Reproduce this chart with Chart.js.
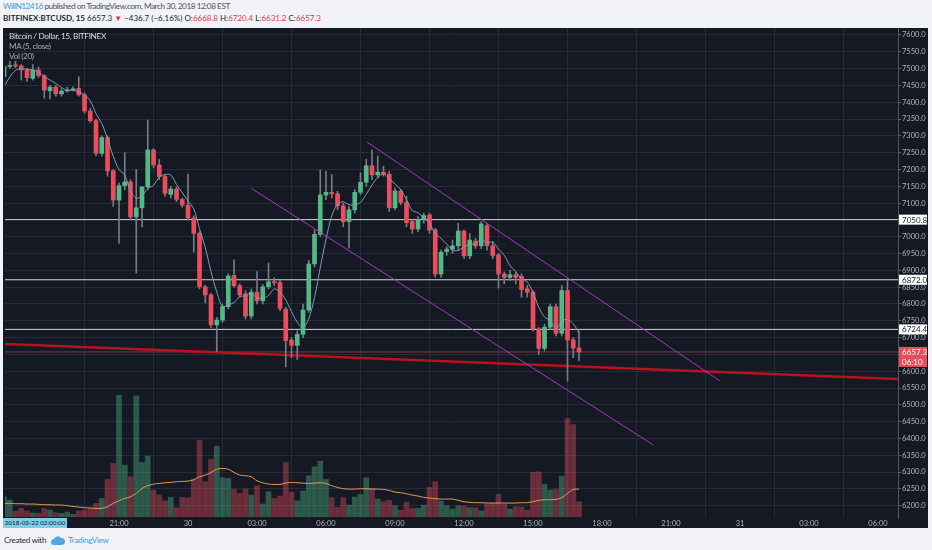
<!DOCTYPE html>
<html>
<head>
<meta charset="utf-8">
<script src="https://cdn.jsdelivr.net/npm/chart.js@4.4.1/dist/chart.umd.min.js"></script>
<style>
  body { margin: 0; width: 932px; height: 550px; background: #f1f3f7; font-family: Lato, "Open Sans", sans-serif; position: relative; overflow: hidden; }
  #panel { position: absolute; left: 3px; top: 28px; width: 925px; height: 500px; background: #151924; }
  #wrap { position: absolute; left: 5px; top: 28px; width: 923px; height: 500px; }
  .hdr1 { position: absolute; left: 3px; top: 1px; font-size: 8.3px; letter-spacing: -0.5px; color: #50535e; white-space: nowrap; }
  .hdr1 .user { color: #3d9be0; }
  .hdr2 { position: absolute; left: 3px; top: 13px; font-size: 8px; color: #23262f; white-space: nowrap; }
  .hdr2 b { font-weight: 700; }
  .hdr2 .dn { color: #e0364a; }
  .legend { position: absolute; left: 9px; top: 31px; font-size: 8.3px; letter-spacing: -0.4px; line-height: 10px; color: #a3a7b3; white-space: nowrap; }
  .legend .t { color: #d4d7de; }
  .xtag { position: absolute; left: 3px; top: 518px; width: 64px; height: 10px; background: #7fcbe8; color: #14202e; font-size: 6.3px; line-height: 10px; text-align: center; white-space: nowrap; overflow: hidden; }
  .foot { position: absolute; left: 4px; top: 535px; font-size: 8px; letter-spacing: -0.25px; color: #2a2d36; white-space: nowrap; }
  .foot .tv { color: #3d9be0; }
  .foot svg { vertical-align: -2px; margin: 0 3px 0 5px; }
</style>
</head>
<body>
<div class="hdr1"><span class="user">WillN12416</span> published on TradingView.com, March 30, 2018 12:08 EST</div>
<div class="hdr2"><b>BITFINEX:BTCUSD, 15</b> 6657.3 <span class="dn">▼</span> −436.7 (−6.16%) O:<span class="dn">6668.8</span> H:<span class="dn">6720.4</span> L:<span class="dn">6631.2</span> C:<span class="dn">6657.3</span></div>
<div id="panel"></div>
<div id="wrap"><canvas id="myChart" width="923" height="500"></canvas></div>
<div class="legend"><div class="t">Bitcoin / Dollar, 15, BITFINEX</div><div>MA (5, close)</div><div>Vol (20)</div></div>
<div class="xtag">2018-03-22 02:00:00</div>
<div class="foot">Created with<svg width="14" height="9" viewBox="0 0 14 9"><path d="M3 9 A3 3 0 0 1 3 3 A4 4 0 0 1 10 2 A3.5 3.5 0 0 1 11 9 Z" fill="#4fa8e4"/></svg><span class="tv">TradingView</span></div>
<script>
const ctx = document.getElementById("myChart").getContext("2d");

// 15 min candles, 29 Mar 16:00 -> 30 Mar 17:00
const opens = [7476,7506,7510,7508,7496,7471,7496,7479,7434,7445,
  7425,7434,7437,7441,7422,7374,7345,7248,7295,7196,
  7109,7152,7163,7059,7086,7148,7258,7213,7179,7126,
  7142,7111,7094,7056,7010,6851,6827,6738,6752,6792,
  6885,6854,6830,6764,6835,6809,6851,6866,6864,6784,
  6693,6677,6710,6782,6919,7007,7124,7132,7128,7092,
  7045,7080,7132,7162,7211,7184,7192,7186,7086,7136,
  7102,7045,7023,7050,7065,7020,6889,6956,6963,6973,
  7017,6943,6987,6973,7033,6973,6946,6889,6879,6887,
  6882,6845,6835,6726,6668,6731,6792,6713,6840,6693,
  6668.8];
const highs = [7523,7522,7522,7512,7500,7512,7505,7482,7450,7450,
  7440,7445,7446,7476,7428,7382,7350,7300,7300,7200,
  7160,7250,7170,7200,7150,7347,7262,7230,7185,7150,
  7148,7115,7186,7062,7015,6856,6832,6760,6800,6890,
  6931,6860,6840,6845,6896,6858,6922,6878,6870,6790,
  6700,6720,6800,6930,7020,7199,7195,7185,7135,7100,
  7090,7140,7190,7230,7258,7240,7210,7195,7145,7140,
  7120,7050,7060,7070,7070,7025,6960,6970,6990,7040,
  7020,7010,6995,7045,7040,6985,6950,6895,6900,6895,
  6890,6855,6840,6730,6740,6800,6800,6855,6876,6700,
  6720.4];
const lows = [7470,7500,7503,7466,7462,7466,7474,7412,7410,7418,
  7418,7430,7434,7418,7368,7340,7240,7240,7180,7090,
  6980,7140,7050,6892,7029,7140,7205,7170,7120,7115,
  7105,7088,7050,6955,6845,6803,6730,6658,6745,6785,
  6850,6820,6755,6755,6800,6800,6845,6855,6780,6613,
  6640,6635,6700,6775,6910,7000,7110,7115,7080,7030,
  6966,7070,7125,7150,7170,7175,7180,7075,7080,7095,
  7030,7010,7015,7040,7010,6880,6880,6945,6950,6960,
  6935,6935,6965,6965,6960,6935,6847,6860,6870,6860,
  6820,6820,6720,6650,6660,6725,6705,6705,6570,6640,
  6631.2];
const closes = [7506,7509,7508,7496,7473,7496,7479,7436,7445,7425,
  7433,7437,7440,7422,7374,7345,7248,7295,7196,7109,
  7152,7163,7059,7086,7148,7258,7213,7179,7129,7142,
  7111,7094,7056,7010,6851,6827,6738,6752,6792,6883,
  6854,6827,6764,6835,6809,6851,6866,6863,6787,6691,
  6677,6710,6782,6919,7007,7124,7132,7128,7092,7045,
  7080,7132,7162,7211,7184,7192,7186,7086,7136,7102,
  7042,7023,7050,7063,7020,6889,6954,6963,6973,7017,
  6943,6990,6973,7038,6973,6944,6889,6879,6887,6879,
  6843,6835,6726,6668,6731,6792,6713,6840,6693,6669,
  6657.3];
const ma5 = [7446,7475,7495,7500,7498,7496,7490,7476,7466,7456,
  7444,7435,7436,7431,7421,7404,7366,7337,7292,7239,
  7200,7183,7136,7114,7122,7143,7153,7177,7185,7184,
  7155,7131,7106,7083,7024,6968,6896,6836,6792,6798,
  6804,6822,6824,6833,6818,6817,6825,6845,6835,6812,
  6777,6746,6729,6756,6819,6908,6993,7062,7097,7104,
  7095,7095,7102,7126,7154,7176,7187,7172,7157,7140,
  7110,7078,7071,7056,7040,7009,6995,6978,6960,6959,
  6970,6977,6979,6992,6983,6984,6963,6945,6914,6896,
  6875,6865,6834,6790,6761,6750,6726,6749,6754,6741,
  6714];
const volumes = [60,50,17,25,17,11,10,25,20,12,
  10,14,7,17,20,25,40,55,112,160,
  365,155,120,363,163,182,79,65,48,58,
  27,58,57,113,230,105,173,212,117,115,
  82,70,83,65,93,38,75,55,62,163,
  73,48,77,123,150,167,112,57,28,57,
  35,59,67,117,85,53,45,49,33,20,
  44,25,25,35,88,105,47,33,23,33,
  32,27,27,17,38,40,67,37,23,30,
  29,20,133,135,97,80,83,122,295,277,
  45];
const volMa = [40,40,39,39,38,38,37,36,36,35,
  35,33,31,29,27,26,25,25,30,40,
  48,55,60,70,85,93,98,100,102,103,
  105,106,107,111,120,125,133,143,145,143,
  133,125,123,120,108,102,98,97,97,101,
  103,102,101,100,101,102,100,93,88,84,
  83,83,84,84,83,83,82,79,74,72,
  69,65,62,58,56,54,53,53,53,49,
  45,43,42,42,41,41,41,41,41,41,
  42,42,45,49,51,51,52,57,70,82,
  83];

const tickPos = [20, 32, 44, 56, 68, 80, 92, 104, 116, 128, 140, 152];
const tickText = ['21:00', '30', '03:00', '06:00', '09:00', '12:00', '15:00', '18:00', '21:00', '31', '03:00', '06:00'];
const priceTicks = [6200,6250,6300,6350,6400,6450,6500,6550,6600,6650,6700,6750,6800,6850,6900,
  6950,7000,7050,7100,7150,7200,7250,7300,7350,7400,7450,7500,7550,7600];

const levels = [7050.8, 6872.0, 6724.4];
const redTrend = { x: [0.17, 155.48], y: [6681, 6577] };
const upperChannel = { x: [63.1, 124.5], y: [7282, 6571] };
const lowerChannel = { x: [43, 112.9], y: [7144, 6381] };
const countdown = '06:10';

const X_MIN = 0.17, X_MAX = 155.48;
const up = '#53b987', down = '#eb4d5c';
const isUp = closes.map((c, i) => c >= opens[i]);

const seg = (t) => t.x.map((x, k) => ({ x, y: t.y[k] }));
const flat = (v) => [{ x: X_MIN, y: v }, { x: X_MAX, y: v }];

const datasets = [
  {
    type: 'bar', label: 'vol', yAxisID: 'yv', order: 20, grouped: false,
    data: volumes.map((v, i) => ({ x: i, y: v })),
    backgroundColor: isUp.map(u => u ? 'rgba(83,185,135,0.4)' : 'rgba(235,77,92,0.4)'),
    barThickness: 5,
  },
  {
    type: 'line', label: 'volma', yAxisID: 'yv', order: 19,
    data: volMa.map((v, i) => ({ x: i, y: v })),
    borderColor: '#e89a52', borderWidth: 1, pointRadius: 0, tension: 0.3,
  },
  ...levels.map(v => ({
    type: 'line', label: 'lvl', yAxisID: 'y', order: 15,
    data: flat(v), borderColor: '#d6d7db', borderWidth: 1, pointRadius: 0,
  })),
  {
    type: 'line', label: 'last', yAxisID: 'y', order: 15,
    data: flat(closes[closes.length - 1]), borderColor: 'rgba(235,77,92,0.55)', borderWidth: 1, pointRadius: 0,
  },
  {
    type: 'line', label: 'red', yAxisID: 'y', order: 14,
    data: seg(redTrend), borderColor: '#b8121c', borderWidth: 2.5, pointRadius: 0,
  },
  {
    type: 'bar', label: 'wick', yAxisID: 'y', order: 10, grouped: false,
    data: lows.map((l, i) => ({ x: i, y: [l, highs[i]] })),
    backgroundColor: '#767b86', barThickness: 1,
  },
  {
    type: 'bar', label: 'body', yAxisID: 'y', order: 9, grouped: false,
    data: opens.map((o, i) => ({ x: i, y: [o, closes[i]] })),
    backgroundColor: isUp.map(u => u ? up : down),
    barThickness: 4, minBarLength: 1,
  },
  {
    type: 'line', label: 'ma', yAxisID: 'y', order: 5,
    data: ma5.map((v, i) => ({ x: i, y: v })),
    borderColor: '#7f9cb6', borderWidth: 1, pointRadius: 0, tension: 0.3,
  },
  {
    type: 'line', label: 'up', yAxisID: 'y', order: 4,
    data: seg(upperChannel), borderColor: '#a53ac4', borderWidth: 1, pointRadius: 0,
  },
  {
    type: 'line', label: 'lo', yAxisID: 'y', order: 4,
    data: seg(lowerChannel), borderColor: '#a53ac4', borderWidth: 1, pointRadius: 0,
  },
];

const axisTags = {
  id: 'axisTags',
  afterDraw(chart) {
    const { ctx, scales: { y }, chartArea } = chart;
    const x0 = chartArea.right + 1;
    const tag = (py, text, bg, fg) => {
      ctx.fillStyle = bg;
      ctx.fillRect(x0, py - 5, 28, 10);
      ctx.fillStyle = fg;
      ctx.font = '8px Lato';
      ctx.textBaseline = 'middle';
      ctx.textAlign = 'left';
      ctx.fillText(text, x0 + 3, py + 0.5);
    };
    ctx.save();
    levels.forEach(v => tag(y.getPixelForValue(v), v.toFixed(1), '#ffffff', '#1b1e27'));
    const last = closes[closes.length - 1];
    const yl = y.getPixelForValue(last);
    tag(yl, last.toFixed(1), down, '#ffffff');
    tag(yl + 10, countdown, down, '#ffffff');
    ctx.restore();
  }
};

const noPad = (s) => { s.paddingTop = 0; s.paddingBottom = 0; s.paddingLeft = 0; s.paddingRight = 0; };

const config = {
  data: { datasets },
  options: {
    animation: false,
    responsive: false,
    parsing: true,
    layout: { padding: 0 },
    plugins: { legend: { display: false }, tooltip: { enabled: false } },
    scales: {
      x: {
        type: 'linear', min: X_MIN, max: X_MAX, offset: false,
        afterBuildTicks: (s) => { s.ticks = tickPos.map(v => ({ value: v })); },
        afterFit: (s) => { s.height = 10; noPad(s); },
        grid: { color: '#262b37', drawTicks: false },
        border: { display: false },
        ticks: {
          autoSkip: false, maxRotation: 0, padding: 1, color: '#b2b5be',
          font: { size: 7.5, family: 'Lato' },
          callback: (v) => tickText[tickPos.indexOf(v)],
        },
      },
      y: {
        position: 'right', min: 6163.4, max: 7620.8,
        afterBuildTicks: (s) => { s.ticks = priceTicks.map(v => ({ value: v })); },
        afterFit: (s) => { s.width = 30; noPad(s); },
        grid: { color: '#262b37', tickLength: 3, tickColor: '#5d626e' },
        border: { display: true, color: '#50555f' },
        ticks: {
          padding: 1, color: '#b2b5be', font: { size: 7.5, family: 'Lato' },
          callback: (v) => Number(v).toFixed(1),
        },
      },
      yv: {
        display: false, min: -4, max: 1470,
      },
    },
  },
  plugins: [axisTags],
};

const myChart = new Chart(ctx, config);
</script>
</body>
</html>
